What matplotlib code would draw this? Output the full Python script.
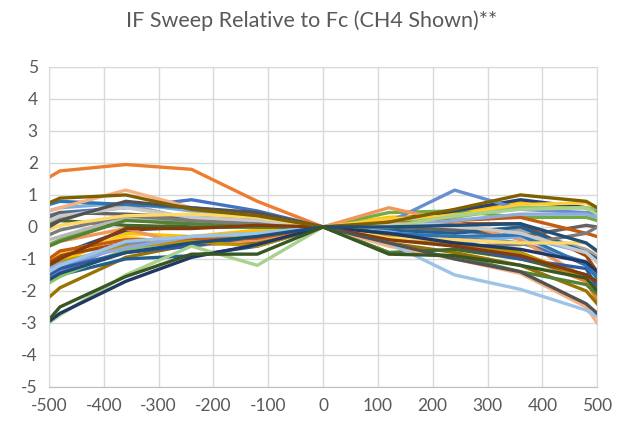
import numpy as np
import matplotlib.pyplot as plt

# IF offset (MHz) sample points
IF_OFFSETS = [-500, -480, -360, -240, -120, 0, 120, 240, 360, 480, 500]

# Excel default series colours (36 series)
COLORS = [
    "#4472C4", "#ED7D31", "#A5A5A5", "#FFC000", "#5B9BD5", "#70AD47",
    "#264478", "#9E480E", "#636363", "#997300", "#255E91", "#43682B",
    "#698ED0", "#F1975A", "#B7B7B7", "#FFCD33", "#7CAFDD", "#8CC168",
    "#335AA1", "#C55A11", "#7B7B7B", "#BF9000", "#2E75B6", "#548235",
    "#8FAADC", "#F4B183", "#C9C9C9", "#FFD966", "#9DC3E6", "#A9D18E",
    "#203864", "#843C0C", "#525252", "#7F6000", "#1F4E79", "#385723",
]

# relative response (dB), one row per sweep
SWEEPS = [
    [0.35, 0.45, 0.6, 0.85, 0.5, 0, -0.1, -0.3, -0.5, -1.1, -1.5],
    [1.55, 1.75, 1.95, 1.8, 0.8, 0, -0.2, -0.5, -0.9, -1.7, -2.3],
    [0.1, 0.3, 0.7, 0.25, 0.15, 0, -0.15, -0.1, -0.1, -0.7, -0.9],
    [-1.3, -1.1, -0.2, -0.3, -0.1, 0, 0.3, 0.4, 0.8, 0.6, 0.3],
    [-1.5, -1.3, -0.5, -0.4, -0.3, 0, -0.3, -0.4, -0.9, -1.5, -1.8],
    [-0.55, -0.4, 0.3, 0.0, 0.0, 0, 0.45, 0.5, 0.3, 0.3, 0.2],
    [-1.0, -0.85, -0.1, 0.0, 0.1, 0, 0.2, 0.5, 0.85, 0.6, 0.5],
    [-1.1, -0.9, -0.5, -0.3, -0.4, 0, 0.1, 0.1, 0.1, -0.9, -1.4],
    [0.3, 0.45, 0.4, 0.3, 0.3, 0, 0.0, -0.1, -0.3, 0.05, 0.0],
    [-2.2, -1.9, -0.95, -0.55, -0.5, 0, -0.5, -0.8, -1.2, -2.0, -2.4],
    [-1.7, -1.5, -1.0, -0.9, -0.6, 0, -0.1, -0.2, 0.0, -0.8, -1.0],
    [0.05, 0.2, 0.05, 0.0, 0.0, 0, -0.8, -0.7, -1.0, -1.5, -1.9],
    [-1.6, -1.4, -0.5, -0.5, -0.4, 0, 0.15, 1.15, 0.55, 0.45, 0.4],
    [-0.6, -0.45, -0.05, -0.6, -0.4, 0, 0.6, 0.15, -0.4, -1.6, -1.9],
    [-0.4, -0.3, 0.3, 0.1, 0.05, 0, -0.2, -0.3, -0.3, -1.2, -1.4],
    [-1.0, -0.8, -0.3, -0.6, -0.3, 0, 0.25, 0.35, 0.7, 0.75, 0.6],
    [0.5, 0.6, 0.75, 0.5, 0.3, 0, -0.15, -0.5, -0.3, -0.8, -1.1],
    [-1.75, -1.55, -0.7, -0.4, -0.3, 0, 0.1, 0.3, 0.6, 0.6, 0.55],
    [-1.5, -1.3, -0.8, -0.6, -0.3, 0, -0.3, -0.6, -1.0, -1.3, -1.9],
    [-1.0, -0.75, -0.4, -0.4, -0.35, 0, 0.1, 0.2, 0.3, -0.2, -0.3],
    [-0.25, -0.1, 0.35, 0.2, 0.1, 0, -0.2, -0.6, -0.55, -0.2, 0.0],
    [-1.3, -1.1, -0.6, -0.45, -0.6, 0, -0.3, -0.5, -0.8, -1.6, -2.0],
    [0.7, 0.8, 0.7, 0.6, 0.4, 0, -0.2, -0.3, -0.25, -1.2, -1.6],
    [-0.6, -0.45, 0.2, 0.1, 0.0, 0, -0.8, -0.9, -1.4, -1.8, -2.1],
    [-1.3, -1.15, -0.65, -0.3, -0.2, 0, 0.0, 0.2, 0.4, 0.4, 0.3],
    [0.5, 0.6, 1.15, 0.6, 0.35, 0, -0.6, -1.0, -1.45, -2.5, -3.0],
    [0.2, 0.35, 0.6, 0.3, 0.2, 0, 0.1, 0.05, -0.2, -0.8, -1.1],
    [-0.1, 0.05, 0.35, 0.4, 0.3, 0, -0.35, -0.4, -0.5, -0.5, -0.8],
    [-1.4, -1.2, -0.45, -0.3, -0.2, 0, -0.5, -1.5, -1.95, -2.6, -2.8],
    [-3.0, -2.75, -1.5, -0.6, -1.2, 0, 0.0, 0.35, 0.55, 0.6, 0.4],
    [-2.95, -2.7, -1.7, -0.95, -0.55, 0, -0.2, -0.5, -0.7, -1.1, -1.4],
    [-1.2, -1.0, -0.05, -0.05, 0.05, 0, -0.4, -0.6, -0.9, -1.5, -1.7],
    [0.0, 0.2, 0.8, 0.6, 0.45, 0, -0.5, -1.0, -1.4, -2.4, -2.7],
    [0.75, 0.9, 1.0, 0.55, 0.35, 0, 0.15, 0.55, 1.0, 0.8, 0.6],
    [-1.65, -1.45, -0.8, -0.5, -0.3, 0, 0.0, 0.05, 0.1, -0.5, -0.75],
    [-2.9, -2.5, -1.55, -0.85, -0.85, 0, -0.85, -0.9, -1.2, -1.6, -2.0],
]

X_TICKS = list(range(-500, 501, 100))
Y_TICKS = list(range(-5, 6))

plt.rcParams["font.family"] = ["Lato", "DejaVu Sans"]
plt.rcParams["axes.unicode_minus"] = False

fig = plt.figure(figsize=(6.24, 4.29), dpi=100)
ax = fig.add_axes([0.0785, 0.098, 0.8785, 0.746])

for vals, col in zip(SWEEPS, COLORS):
    ax.plot(IF_OFFSETS, vals, color=col, linewidth=2.4, solid_joinstyle="round")

ax.set_xlim(-500, 500)
ax.set_ylim(-5, 5)
ax.set_xticks(X_TICKS)
ax.set_yticks(Y_TICKS)
ax.grid(True, color="#D9D9D9", linewidth=1.0)
ax.set_axisbelow(True)
ax.tick_params(length=0, labelsize=12.5, colors="#595959", pad=8)

for side in ["top", "right", "left"]:
    ax.spines[side].set_color("#D9D9D9")
ax.spines["bottom"].set_color("#BFBFBF")

fig.text(0.5, 0.952, "IF Sweep Relative to Fc (CH4 Shown)**", ha="center", va="center",
         fontsize=15.5, color="#595959")

fig.savefig("out.png", dpi=100)
